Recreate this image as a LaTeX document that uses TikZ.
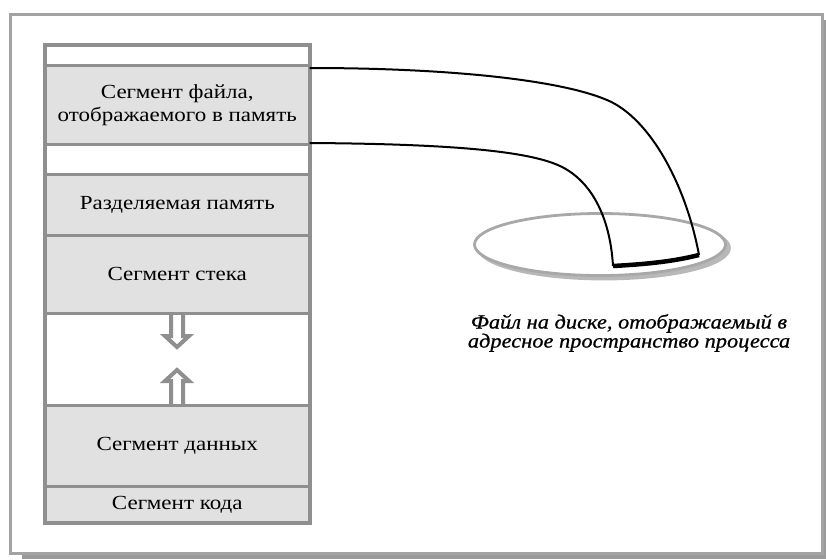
\documentclass[tikz,border=0pt]{standalone}
\usepackage{fontspec}
\setmainfont{Liberation Serif}
\newfontfamily\segfont[FakeStretch=1.15]{Liberation Serif}
\newfontfamily\capfont[FakeStretch=1.12,FakeBold=0.8]{Liberation Serif}
\usetikzlibrary{shapes.geometric}

\definecolor{segline}{HTML}{8F8F8F}
\definecolor{segfill}{HTML}{E1E1E1}
\definecolor{framecol}{HTML}{A3A3A3}
\definecolor{frameshadow}{HTML}{9A9A9A}
\definecolor{diskline}{HTML}{A8A8A8}
\definecolor{diskshadow}{HTML}{B8B8B8}

\tikzset{
  segrow/.style={draw=segline, line width=3pt, fill=segfill, minimum width=264.5pt,
    inner sep=0pt, outer sep=0pt, anchor=north west, align=center,
    font=\segfont\fontsize{20}{23}\selectfont},
  emptyrow/.style={segrow, fill=white},
  hollowarrow/.style={draw=segline, line width=4pt, fill=white, line join=miter},
  disk/.style={ellipse, minimum width=251pt, minimum height=62pt, inner sep=0pt,
    outer sep=0pt, line width=2.8pt},
  link/.style={draw=black, line width=2pt},
  mapped/.style={draw=black, line width=4.5pt},
  caption/.style={align=center, inner sep=0pt,
    font=\capfont\itshape\fontsize{20}{19}\selectfont}
}

\begin{document}
\begin{tikzpicture}[x=1pt,y=-1pt]
  \useasboundingbox (0,0) rectangle (826,559);

  % outer frame with its shadow
  \fill[frameshadow] (22,20) rectangle (826,558.5);
  \draw[framecol, line width=3pt, fill=white] (10,15) rectangle (822,553);

  % address space column
  \node[emptyrow, minimum height=20pt]   (top)    at (45,45.5)  {};
  \node[segrow,   minimum height=79pt]   (file)   at (45,65.5)  {Сегмент файла,\\отображаемого в память};
  \node[emptyrow, minimum height=30pt]   (gap1)   at (45,144.5) {};
  \node[segrow,   minimum height=60.5pt] (shared) at (45,174.5) {Разделяемая память};
  \node[segrow,   minimum height=78.5pt] (stack)  at (45,235)   {Сегмент стека};
  \node[emptyrow, minimum height=91.5pt] (free)   at (45,313.5) {};
  \node[segrow,   minimum height=81.5pt] (data)   at (45,405)   {Сегмент данных};
  \node[segrow,   minimum height=36.5pt] (code)   at (45,486.5) {Сегмент кода};
  \draw[segline, line width=4pt] (top.north west) rectangle (code.south east);

  % growth arrows of stack and data
  \filldraw[hollowarrow] (171,313.5) -- (171,336) -- (165,336) -- (177,347)
    -- (189,336) -- (183,336) -- (183,313.5);
  \filldraw[hollowarrow] (171,405) -- (171,381) -- (165,381) -- (177,370)
    -- (189,381) -- (183,381) -- (183,405);
  \draw[segline, line width=3pt] (stack.south west) -- (stack.south east);
  \draw[segline, line width=3pt] (data.north west) -- (data.north east);

  % file on disk
  \node[disk, draw=diskshadow, fill=diskshadow] (diskshade) at (604,248) {};
  \node[disk, draw=diskline, fill=white] (disk) at (600,244.5) {};
  \coordinate (dL) at (613,266);
  \coordinate (dR) at (699,255);

  \node[caption] (cap) at (629,333)
    {Файл на диске, отображаемый в\\адресное пространство процесса};

  % mapping of the segment onto the file
  \draw[link] ([yshift=-2.5pt]file.north east) .. controls (450,68) and (560,80) .. (607,100)
    .. controls (650,118) and (686,185) .. (dR);
  \draw[link] ([yshift=1.5pt]file.south east) .. controls (460,144) and (530,152) .. (560,166)
    .. controls (590,180) and (610,215) .. (dL);
  \draw[mapped] (dL) .. controls (650,264) and (675,261) .. (dR);
\end{tikzpicture}
\end{document}
